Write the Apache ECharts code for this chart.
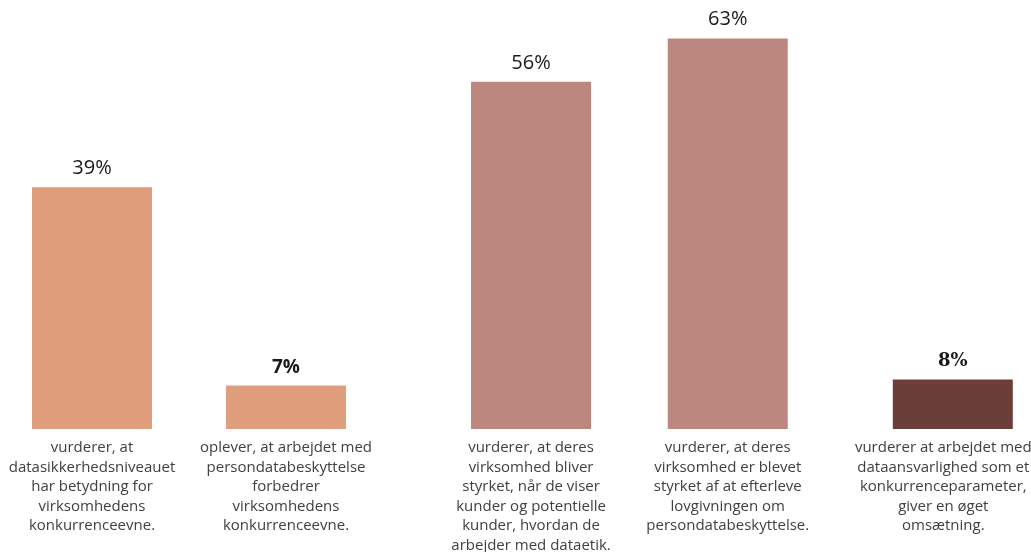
<!DOCTYPE html>
<html>
<head>
<meta charset="utf-8">
<script src="https://cdn.jsdelivr.net/npm/echarts@6/dist/echarts.min.js"></script>
<style>html,body{margin:0;padding:0;background:#fff}#c{width:1031px;height:552px}</style>
</head>
<body>
<div id="c"></div>
<script>
// Data
const groupA_labels = [
  "vurderer, at\ndatasikkerhedsniveauet\nhar betydning for\nvirksomhedens\nkonkurrenceevne.",
  "oplever, at arbejdet med\npersondatabeskyttelse\nforbedrer\nvirksomhedens\nkonkurrenceevne."
];
const groupA_values = [39, 7];
const groupB_labels = [
  "vurderer, at deres\nvirksomhed bliver\nstyrket, når de viser\nkunder og potentielle\nkunder, hvordan de\narbejder med dataetik.",
  "vurderer, at deres\nvirksomhed er blevet\nstyrket af at efterleve\nlovgivningen om\npersondatabeskyttelse."
];
const groupB_values = [56, 63];
const groupC_labels = [
  "vurderer at arbejdet med\ndataansvarlighed som et\nkonkurrenceparameter,\ngiver en øget\nomsætning."
];
const groupC_values = [8];

const colA = '#E09E7C', colB = '#BC877F', colC = '#6B3E37';
const yMax = 65;

const chart = echarts.init(document.getElementById('c'), null, {renderer: 'canvas'});
const font = '"Open Sans", sans-serif';
const grids = [
  {left: -5, width: 388, top: 26, bottom: 123, outerBoundsMode: 'none', containLabel: false},
  {left: 432.7, width: 393.4, top: 26, bottom: 123, outerBoundsMode: 'none', containLabel: false},
  {left: 872.8, width: 160, top: 26, bottom: 123, outerBoundsMode: 'none', containLabel: false}
];
const cats = [groupA_labels, groupB_labels, groupC_labels];
const vals = [groupA_values, groupB_values, groupC_values];
const cols = [colA, colB, colC];
const labelPad = [[0, 0, 0, 0], [0, 0, 0, 0], [0, 19, 0, 0]];
const labelStyleFor = (v) => {
  if (v === 7) return {fontWeight: 'bold', fontFamily: font, fontSize: 19};
  if (v === 8) return {fontWeight: 'bold', fontFamily: '"DejaVu Serif", serif', fontSize: 18};
  return {fontWeight: 'normal', fontFamily: font, fontSize: 20};
};
const option = {
  animation: false,
  backgroundColor: '#fff',
  grid: grids,
  xAxis: grids.map((g, i) => ({
    type: 'category', gridIndex: i, data: cats[i],
    axisLine: {show: false}, axisTick: {show: false},
    axisLabel: {interval: 0, hideOverlap: false, color: '#404040', fontSize: 15, fontFamily: font, lineHeight: 19.5, margin: 9, align: 'center', padding: labelPad[i]}
  })),
  yAxis: grids.map((g, i) => ({
    type: 'value', gridIndex: i, min: 0, max: yMax, show: false, splitLine: {show: false}
  })),
  series: grids.map((g, i) => ({
    type: 'bar', xAxisIndex: i, yAxisIndex: i, barWidth: 120,
    itemStyle: {color: cols[i]},
    data: vals[i].map(v => ({
      value: v,
      label: Object.assign({show: true, position: 'top', distance: 9, color: '#1a1a1a', formatter: '{c}%'}, labelStyleFor(v))
    }))
  }))
};
chart.setOption(option);
</script>
</body>
</html>
